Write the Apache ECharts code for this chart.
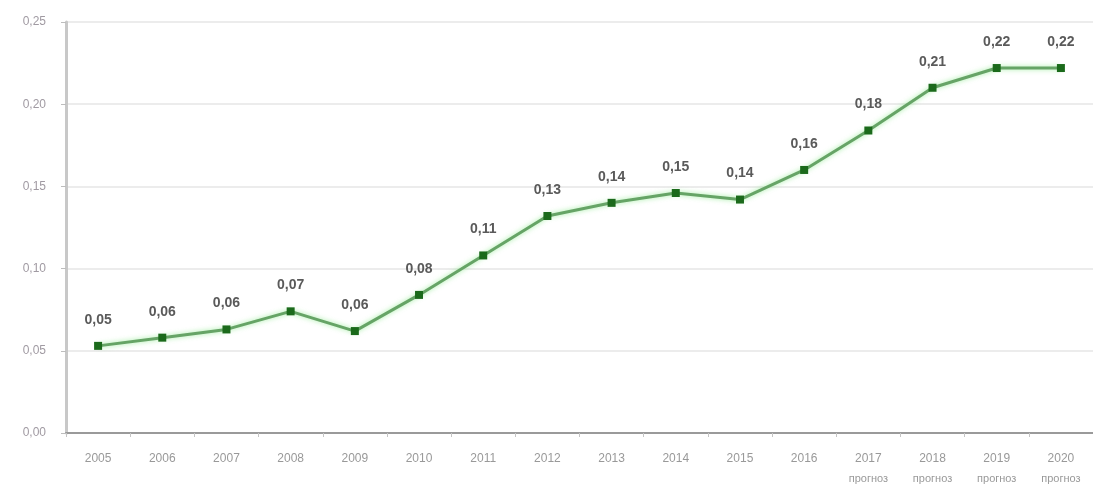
<!DOCTYPE html>
<html><head><meta charset="utf-8">
<script src="https://cdn.jsdelivr.net/npm/echarts@6/dist/echarts.min.js"></script>
<style>html,body{margin:0;padding:0;background:#fff}#c{width:1093px;height:486px}</style>
</head><body><div id="c"></div>
<script>
const years = ['2005','2006','2007','2008','2009','2010','2011','2012','2013','2014','2015','2016','2017','2018','2019','2020'];
const values = [0.053, 0.058, 0.063, 0.074, 0.062, 0.084, 0.108, 0.132, 0.140, 0.146, 0.142, 0.160, 0.184, 0.210, 0.222, 0.222];
const forecastYears = ['2017','2018','2019','2020'];
const forecastText = 'прогноз';

const chart = echarts.init(document.getElementById('c'));
chart.setOption({
  animation: false,
  grid: { left: 66, right: -6, top: 22, bottom: 53 },
  xAxis: {
    type: 'category', data: years, boundaryGap: true,
    axisLine: { lineStyle: { color: '#9a9a9a', width: 2 } },
    axisTick: { show: true, lineStyle: { color: '#c4c4c4' }, length: 4 },
    axisLabel: {
      interval: 0, margin: 18, fontFamily: 'Liberation Sans, Arial',
      formatter: v => '{a|' + v + '}\n{b|' + (forecastYears.includes(v) ? forecastText : ' ') + '}',
      rich: {
        a: { color: '#999', fontSize: 12, lineHeight: 16 },
        b: { color: '#999', fontSize: 11, lineHeight: 24 }
      }
    }
  },
  yAxis: {
    type: 'value', min: 0, max: 0.25, interval: 0.05,
    axisLine: { show: true, lineStyle: { color: '#c8c8c8', width: 3 } },
    axisTick: { show: true, length: 5, lineStyle: { color: '#bdbdbd' } },
    splitLine: { lineStyle: { color: '#ececec', width: 2 } },
    axisLabel: {
      margin: 20, color: '#a09aa2', fontSize: 12, fontFamily: 'Liberation Sans, Arial',
      formatter: v => v.toFixed(2).replace('.', ',')
    }
  },
  series: [{
    type: 'line', data: values,
    symbol: 'rect', symbolSize: 8,
    lineStyle: { color: '#66a466', width: 3, shadowColor: 'rgba(120,230,120,0.7)', shadowBlur: 5 },
    itemStyle: { color: '#1b6a1b' },
    label: {
      show: true, position: 'top', distance: 15,
      color: '#5a5a5a', fontSize: 14, fontWeight: 'bold', fontFamily: 'Liberation Sans, Arial',
      formatter: p => p.value.toFixed(2).replace('.', ',')
    }
  }]
});
</script>
</body></html>
